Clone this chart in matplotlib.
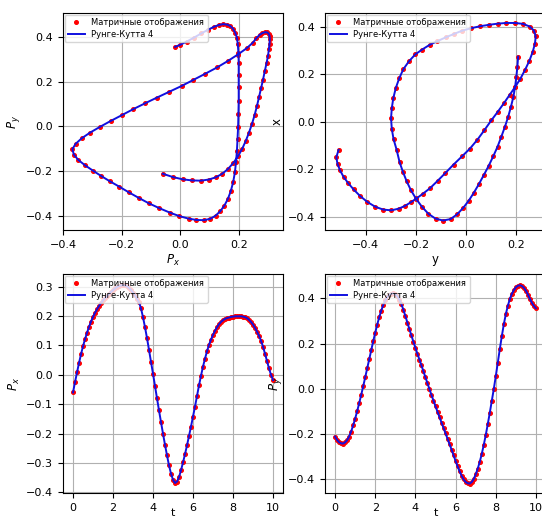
import numpy as np
import matplotlib
matplotlib.use("Agg")
import matplotlib.pyplot as plt

# time grid and momenta
t = np.linspace(0, 10, 101)
px = [-0.060, -0.025, 0.008, 0.040, 0.070, 0.097, 0.121, 0.143, 0.163, 0.181,
      0.197, 0.211, 0.223, 0.234, 0.244, 0.253, 0.261, 0.268, 0.275, 0.282,
      0.288, 0.294, 0.299, 0.302, 0.304, 0.305, 0.304, 0.301, 0.296, 0.289,
      0.280, 0.270, 0.259, 0.247, 0.226, 0.196, 0.162, 0.125, 0.085, 0.044,
      0.004, -0.038, -0.080, -0.121, -0.161, -0.200, -0.238, -0.274, -0.308, -0.336,
      -0.357, -0.368, -0.363, -0.348, -0.325, -0.298, -0.270, -0.240, -0.208, -0.176,
      -0.142, -0.108, -0.072, -0.036, -0.003, 0.028, 0.055, 0.080, 0.102, 0.120,
      0.136, 0.150, 0.162, 0.172, 0.180, 0.186, 0.190, 0.193, 0.195, 0.197,
      0.198, 0.199, 0.199, 0.199, 0.199, 0.198, 0.196, 0.193, 0.187, 0.180,
      0.171, 0.160, 0.147, 0.133, 0.116, 0.096, 0.072, 0.047, 0.022, 0.000,
      -0.018]
py = [-0.212, -0.227, -0.237, -0.242, -0.243, -0.238, -0.228, -0.212, -0.190, -0.163,
      -0.133, -0.100, -0.065, -0.028, 0.010, 0.050, 0.090, 0.130, 0.170, 0.210,
      0.248, 0.284, 0.317, 0.346, 0.371, 0.391, 0.406, 0.416, 0.421, 0.422,
      0.418, 0.410, 0.395, 0.375, 0.350, 0.322, 0.293, 0.264, 0.236, 0.208,
      0.181, 0.155, 0.129, 0.103, 0.077, 0.050, 0.024, -0.002, -0.028, -0.053,
      -0.078, -0.102, -0.126, -0.150, -0.174, -0.198, -0.222, -0.246, -0.270, -0.295,
      -0.320, -0.344, -0.366, -0.386, -0.402, -0.413, -0.419, -0.420, -0.414, -0.400,
      -0.380, -0.355, -0.325, -0.290, -0.250, -0.206, -0.158, -0.108, -0.055, -0.002,
      0.055, 0.115, 0.175, 0.232, 0.285, 0.330, 0.367, 0.397, 0.420, 0.437,
      0.449, 0.456, 0.458, 0.455, 0.447, 0.434, 0.417, 0.398, 0.380, 0.366,
      0.356]

# trajectory in the (y, x) plane
traj_y = [-0.508, -0.517, -0.512, -0.502, -0.488, -0.470, -0.448, -0.423, -0.393, -0.362,
          -0.330, -0.298, -0.268, -0.243, -0.220, -0.198, -0.172, -0.143, -0.113, -0.083,
          -0.050, -0.017, 0.015, 0.045, 0.072, 0.100, 0.125, 0.150, 0.174, 0.195,
          0.215, 0.235, 0.252, 0.265, 0.274, 0.277, 0.270, 0.253, 0.227, 0.195,
          0.160, 0.125, 0.090, 0.055, 0.020, -0.017, -0.050, -0.082, -0.115, -0.145,
          -0.175, -0.202, -0.228, -0.250, -0.266, -0.280, -0.290, -0.296, -0.299, -0.296,
          -0.289, -0.277, -0.265, -0.252, -0.237, -0.220, -0.199, -0.176, -0.150, -0.122,
          -0.092, -0.062, -0.036, -0.012, 0.010, 0.030, 0.050, 0.070, 0.090, 0.108,
          0.125, 0.140, 0.154, 0.167, 0.178, 0.188, 0.195, 0.200, 0.204, 0.207]
traj_x = [-0.118, -0.150, -0.178, -0.205, -0.232, -0.258, -0.285, -0.312, -0.338, -0.358,
          -0.370, -0.373, -0.366, -0.354, -0.339, -0.323, -0.303, -0.279, -0.248, -0.216,
          -0.180, -0.146, -0.113, -0.075, -0.036, 0.006, 0.041, 0.078, 0.115, 0.147,
          0.180, 0.220, 0.258, 0.295, 0.330, 0.360, 0.385, 0.402, 0.413, 0.417,
          0.417, 0.414, 0.409, 0.403, 0.395, 0.384, 0.370, 0.356, 0.340, 0.325,
          0.305, 0.285, 0.255, 0.222, 0.185, 0.143, 0.100, 0.058, 0.015, -0.030,
          -0.073, -0.117, -0.170, -0.210, -0.250, -0.288, -0.325, -0.358, -0.388, -0.408,
          -0.416, -0.410, -0.390, -0.363, -0.333, -0.300, -0.264, -0.225, -0.185, -0.145,
          -0.105, -0.063, -0.022, 0.020, 0.062, 0.105, 0.148, 0.190, 0.232, 0.275]

LBL_MAP = "Матричные отображения"
LBL_RK = "Рунге-Кутта 4"

fig = plt.figure(figsize=(5.42, 5.21), dpi=100)
W, H = 542.0, 521.0


def make_ax(x0, x1, ytop, ybot):
    return fig.add_axes([x0 / W, 1 - ybot / H, (x1 - x0) / W, (ybot - ytop) / H])


ax_tl = make_ax(63, 283, 13, 230)
ax_tr = make_ax(325, 546, 13, 230)
ax_bl = make_ax(63, 283, 274, 493)
ax_br = make_ax(325, 546, 274, 493)

panels = [
    (ax_tl, px, py, r"$P_x$", r"$P_y$", (-0.40, 0.35), (-0.464, 0.508)),
    (ax_tr, traj_y, traj_x, "y", "x", (-0.562, 0.318), (-0.456, 0.459)),
    (ax_bl, t, px, "t", r"$P_x$", (-0.5, 10.5), (-0.402, 0.343)),
    (ax_br, t, py, "t", r"$P_y$", (-0.5, 10.5), (-0.462, 0.508)),
]

for ax, xs, ys, xl, yl, xlim, ylim in panels:
    ax.plot(xs, ys, "o", color="red", markersize=2.6, label=LBL_MAP)
    ax.plot(xs, ys, "-", color="#1010e0", linewidth=1.4, label=LBL_RK)
    ax.set_xlim(*xlim)
    ax.set_ylim(*ylim)
    if xl == "t":
        # bottom row: keep the label inside the picture
        ax.set_xlabel(xl, fontsize=8, labelpad=-3.5)
    else:
        ax.set_xlabel(xl, fontsize=8.5, labelpad=2)
    ax.set_ylabel(yl, fontsize=8.5, labelpad=3)
    ax.tick_params(labelsize=8, length=3.5, width=0.8)
    ax.grid(True, color="#b0b0b0", linewidth=0.8)
    ax.legend(loc="upper left", fontsize=6, borderaxespad=0.2,
              handlelength=2.0, borderpad=0.4, labelspacing=0.3)

ax_tl.set_xticks([-0.4, -0.2, 0.0, 0.2])
ax_tr.set_xticks([-0.4, -0.2, 0.0, 0.2])
ax_bl.set_xticks([0, 2, 4, 6, 8, 10])
ax_br.set_xticks([0, 2, 4, 6, 8, 10])

plt.savefig("out.png", dpi=100)
plt.close()
